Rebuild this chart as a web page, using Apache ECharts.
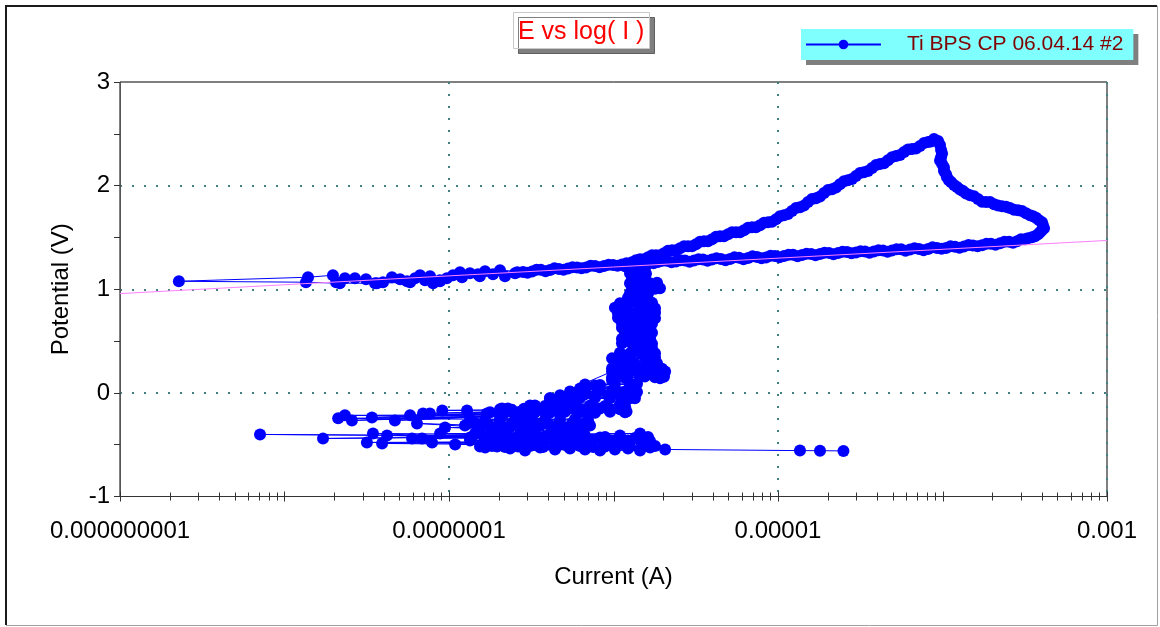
<!DOCTYPE html>
<html>
<head>
<meta charset="utf-8">
<script src="https://cdn.jsdelivr.net/npm/echarts@6/dist/echarts.min.js"></script>
<style>html,body{margin:0;padding:0;background:#fff;}#chart{width:1160px;height:627px;}</style>
</head>
<body>
<div id="chart"></div>
<script>
// ---- DATA: [current (A), potential (V)] in scan order ----
const cathodicStart = [[2.5e-5,-0.560],[1.8e-5,-0.558],[1.36e-5,-0.557]];
const cathodicBottom = [[2.06e-6,-0.546],[1.66e-7,-0.527],[1.45e-6,-0.556],[2.35e-7,-0.536],[1.02e-6,-0.546],[3.58e-7,-0.527],[8.28e-7,-0.556],[1.96e-7,-0.517],[6.71e-7,-0.546],[2.90e-7,-0.556],[5.44e-7,-0.536],[4.41e-7,-0.546],[1.67e-6,-0.527],[1.225e-6,-0.536]];
const cathodicRowA = [[1.543e-7,-0.517],[4.473e-7,-0.522],[1.826e-7,-0.512],[5.291e-7,-0.517],[2.191e-7,-0.522],[6.259e-7,-0.512],[2.627e-7,-0.517],[7.51e-7,-0.522],[3.108e-7,-0.512],[8.884e-7,-0.517],[3.728e-7,-0.522],[1.05e-6,-0.512],[1.26e-6,-0.517],[1.49e-6,-0.522],[1.788e-6,-0.512]];
const cathodicLow = [[3.92e-8,-0.488],[4.73e-7,-0.469],[7.89e-8,-0.478],[9.52e-7,-0.498],[3.17e-8,-0.478],[1.55e-6,-0.469],[1.09e-7,-0.498],[7.20e-7,-0.488],[2.19e-7,-0.469],[1.175e-6,-0.478],[3.11e-7,-0.498],[5.84e-7,-0.459]];
const cathodicRowB = [[1.342e-7,-0.459],[4.229e-7,-0.454],[1.656e-7,-0.464],[5.073e-7,-0.459],[1.986e-7,-0.454],[6.086e-7,-0.464],[2.416e-7,-0.459],[7.20e-7,-0.454],[2.898e-7,-0.464],[8.638e-7,-0.459],[3.476e-7,-0.454],[1.02e-6,-0.464],[1.225e-6,-0.459],[1.449e-6,-0.454],[1.667e-6,-0.464]];
const cathodicRowP = [[1.380e-7,-0.430],[4.473e-7,-0.425],[1.633e-7,-0.435],[5.291e-7,-0.430],[1.931e-7,-0.425],[6.259e-7,-0.435],[2.284e-7,-0.430],[8.884e-7,-0.425],[2.702e-7,-0.435],[1.095e-6,-0.430],[3.196e-7,-0.425],[1.351e-6,-0.435],[3.781e-7,-0.430],[1.621e-6,-0.425]];
const cathodicMid = [[7.10e-9,-0.401],[3.83e-7,-0.420],[1.715e-8,-0.440],[1.095e-6,-0.411],[3.45e-8,-0.391],[1.34e-7,-0.430],[4.20e-8,-0.411],[1.45e-6,-0.391],[5.96e-8,-0.440],[2.04e-7,-0.401],[6.86e-8,-0.440],[8.28e-7,-0.430],[1.78e-7,-0.420],[4.73e-7,-0.401],[8.82e-8,-0.391],[6.71e-7,-0.411]];
const cathodicRowC = [[1.439e-7,-0.391],[3.333e-7,-0.386],[1.775e-7,-0.396],[4.112e-7,-0.391],[2.191e-7,-0.386],[5.073e-7,-0.396],[2.702e-7,-0.391],[6.086e-7,-0.386]];
const cathodicUpper = [[6.39e-8,-0.295],[5.84e-7,-0.343],[9.46e-8,-0.333],[3.11e-7,-0.362],[1.25e-7,-0.314],[4.41e-7,-0.324],[1.54e-7,-0.353],[7.20e-7,-0.314],[2.35e-7,-0.333],[3.58e-7,-0.304]];
const cathodicRowD = [[1.543e-7,-0.324],[3.575e-7,-0.319],[1.905e-7,-0.329],[4.41e-7,-0.324],[2.349e-7,-0.319],[5.44e-7,-0.329],[2.898e-7,-0.324],[6.437e-7,-0.319]];
const cathodicRowQ = [[1.459e-7,-0.295],[3.380e-7,-0.290],[1.726e-7,-0.300],[3.999e-7,-0.295],[2.042e-7,-0.290],[4.73e-7,-0.300],[2.416e-7,-0.295],[5.596e-7,-0.290],[2.858e-7,-0.300],[6.619e-7,-0.295]];
const cathodicRowE = [[1.342e-7,-0.256],[3.108e-7,-0.251],[1.656e-7,-0.261],[3.834e-7,-0.256],[2.042e-7,-0.251],[4.73e-7,-0.261],[2.519e-7,-0.256],[5.836e-7,-0.251],[7.0e-7,-0.261]];
const cathodicHigh = [[2.12e-8,-0.246],[2.70e-7,-0.227],[2.33e-8,-0.217],[4.73e-7,-0.208],[2.57e-8,-0.266],[7.20e-7,-0.188],[3.40e-8,-0.237],[9.52e-7,-0.169],[4.69e-8,-0.266],[1.20e-6,-0.179],[5.80e-8,-0.217],[3.83e-7,-0.179],[6.95e-8,-0.198],[7.65e-8,-0.198],[5.84e-7,-0.159],[9.10e-8,-0.169],[1.287e-7,-0.169],[8.28e-7,-0.150],[1.70e-7,-0.198],[2.10e-7,-0.150],[1.175e-6,-0.130],[2.28e-7,-0.150],[3.33e-7,-0.121],[1.095e-6,-0.111],[4.41e-7,-0.102]];
const cathodicRowF = [[1.775e-7,-0.188],[5.073e-7,-0.183],[2.191e-7,-0.193],[6.259e-7,-0.188],[2.702e-7,-0.183],[7.723e-7,-0.193],[3.333e-7,-0.188],[9.525e-7,-0.183],[4.112e-7,-0.193],[1.175e-6,-0.188]];
const cathodicRowR = [[2.042e-7,-0.159],[5.291e-7,-0.154],[2.416e-7,-0.164],[6.259e-7,-0.159],[2.858e-7,-0.154],[7.830e-7,-0.164],[3.380e-7,-0.159],[9.26e-7,-0.154],[3.999e-7,-0.164],[1.095e-6,-0.159],[4.73e-7,-0.154]];
const cathodicRowG = [[3.108e-7,-0.121],[5.836e-7,-0.116],[3.834e-7,-0.126],[7.20e-7,-0.121],[4.73e-7,-0.116],[8.884e-7,-0.126],[1.095e-6,-0.121]];
const activeBlob = [[5.07e-7,-0.072],[4.11e-7,-0.053],[1.35e-6,-0.053],[5.84e-7,-0.034],[1.30e-6,-0.014],[6.71e-7,0.005],[1.095e-6,0.005],[8.28e-7,0.024],[6.26e-7,0.043],[1.35e-6,0.043],[7.72e-7,0.072],[1.26e-6,0.092],[9.80e-7,0.121],[1.92e-6,0.140],[1.55e-6,0.159],[1.126e-6,0.178],[2.06e-6,0.207],[9.80e-7,0.207]];
const activeRows = [[4.112e-7,-0.053],[7.723e-7,-0.048],[5.073e-7,-0.058],[9.525e-7,-0.053],[6.259e-7,-0.048],[1.175e-6,-0.058],[1.26e-6,-0.053],
  [4.73e-7,-0.024],[7.830e-7,-0.019],[5.596e-7,-0.029],[9.26e-7,-0.024],[6.619e-7,-0.019],[1.095e-6,-0.029],[1.296e-6,-0.024],
  [5.44e-7,0.014],[9.80e-7,0.019],[6.714e-7,0.009],[1.175e-6,0.014],[8.053e-7,0.019],[1.39e-6,0.009],
  [6.714e-7,0.082],[1.02e-6,0.087],[8.28e-7,0.077],[1.26e-6,0.082],[1.39e-6,0.087],
  [9.80e-7,0.150],[1.449e-6,0.155],[1.175e-6,0.145],[1.788e-6,0.150],[2.028e-6,0.155],
  [1.02e-6,0.208],[1.554e-6,0.213],[1.26e-6,0.203],[1.917e-6,0.208]];
const passiveColumn = [[9.80e-7,0.237],[1.667e-6,0.232],[1.175e-6,0.242],[1.409e-6,0.237],[1.972e-6,0.232],
  [1.839e-6,0.285],[1.02e-6,0.280],[1.598e-6,0.290],[1.175e-6,0.285],[1.351e-6,0.280],
  [9.80e-7,0.333],[1.788e-6,0.338],[1.095e-6,0.328],[1.554e-6,0.333],[1.26e-6,0.338],
  [1.788e-6,0.382],[1.095e-6,0.387],[1.621e-6,0.377],[1.26e-6,0.382],[1.449e-6,0.387],
  [1.714e-6,0.430],[1.351e-6,0.425],[1.621e-6,0.435],[1.49e-6,0.430],
  [1.126e-6,0.478],[1.714e-6,0.473],[1.278e-6,0.483],[1.449e-6,0.478],
  [1.667e-6,0.527],[1.126e-6,0.522],[1.554e-6,0.532],[1.225e-6,0.527],[1.409e-6,0.522],
  [1.175e-6,0.575],[1.714e-6,0.580],[1.278e-6,0.570],[1.554e-6,0.575],[1.409e-6,0.580],
  [1.667e-6,0.623],[1.126e-6,0.628],[1.511e-6,0.618],[1.225e-6,0.623],[1.351e-6,0.628],
  [1.126e-6,0.671],[1.714e-6,0.666],[1.225e-6,0.676],[1.621e-6,0.671],[1.449e-6,0.666],
  [1.788e-6,0.720],[1.065e-6,0.725],[1.554e-6,0.715],[1.191e-6,0.720],[1.351e-6,0.725],
  [1.065e-6,0.768],[1.788e-6,0.773],[1.296e-6,0.763],[1.667e-6,0.768],[1.470e-6,0.773],
  [1.788e-6,0.816],[1.02e-6,0.821],[1.621e-6,0.811],[1.191e-6,0.816],[1.449e-6,0.821],
  [1.095e-6,0.865],[1.714e-6,0.870],[1.242e-6,0.860],[1.554e-6,0.865],[1.409e-6,0.870],
  [1.554e-6,0.913],[1.225e-6,0.918],[1.37e-6,0.908],
  [1.26e-6,0.961],[1.621e-6,0.956],[1.351e-6,0.966],[1.449e-6,0.961],
  [1.917e-6,1.010],[1.296e-6,1.015],[1.788e-6,1.005],[1.49e-6,1.010],[1.621e-6,1.015],
  [1.26e-6,1.058],[1.839e-6,1.063],[1.409e-6,1.053],[1.667e-6,1.058],[1.554e-6,1.063],
  [1.554e-6,1.106],[1.296e-6,1.111],[1.409e-6,1.101],
  [1.26e-6,1.155],[1.576e-6,1.150],[1.449e-6,1.160],
  [1.554e-6,1.203],[1.351e-6,1.198],[1.449e-6,1.208]];
const forwardBranch = [[1.175e-6,1.222],[1.225e-6,1.231],[1.296e-6,1.261],[1.37e-6,1.280],[1.449e-6,1.290],[1.533e-6,1.290],[1.621e-6,1.309],[1.714e-6,1.329],[1.813e-6,1.329],[1.917e-6,1.329],
  [2.028e-6,1.348],[2.145e-6,1.372],[2.268e-6,1.377],[2.399e-6,1.377],[2.537e-6,1.396],[2.683e-6,1.415],[2.838e-6,1.415],[3.001e-6,1.415],[3.174e-6,1.435],[3.357e-6,1.459],
  [3.55e-6,1.464],[3.755e-6,1.464],[3.971e-6,1.483],[4.20e-6,1.507],[4.44e-6,1.512],[4.697e-6,1.512],[4.968e-6,1.531],[5.254e-6,1.551],[5.557e-6,1.551],[5.877e-6,1.551],
  [6.215e-6,1.570],[6.573e-6,1.594],[6.95e-6,1.599],[7.352e-6,1.599],[7.776e-6,1.618],[8.224e-6,1.642],[8.70e-6,1.647],[9.198e-6,1.652],[9.73e-6,1.676],[1.028e-5,1.705],
  [1.088e-5,1.715],[1.150e-5,1.725],[1.216e-5,1.754],[1.287e-5,1.783],[1.361e-5,1.792],[1.439e-5,1.807],[1.522e-5,1.841],[1.610e-5,1.870],[1.703e-5,1.879],[1.801e-5,1.894],
  [1.905e-5,1.928],[2.014e-5,1.957],[2.13e-5,1.966],[2.253e-5,1.981],[2.38e-5,2.014],[2.519e-5,2.043],[2.66e-5,2.053],[2.818e-5,2.063],[2.98e-5,2.092],[3.152e-5,2.121],
  [3.33e-5,2.130],[3.525e-5,2.140],[3.73e-5,2.169],[3.943e-5,2.198],[4.17e-5,2.208],[4.41e-5,2.217],[4.66e-5,2.246],[4.933e-5,2.275],[5.22e-5,2.285],[5.518e-5,2.295],
  [5.84e-5,2.324],[6.172e-5,2.348],[6.53e-5,2.353],[6.904e-5,2.358],[7.30e-5,2.382],[7.723e-5,2.411],[8.17e-5,2.420],[8.52e-5,2.425],[8.88e-5,2.449],[9.40e-5,2.430]];
const reversalLoop = [[9.66e-5,2.391],[9.80e-5,2.343],[9.94e-5,2.309],[9.80e-5,2.275],[9.66e-5,2.242],[9.94e-5,2.208],[1.021e-4,2.174],[1.021e-4,2.140],[1.050e-4,2.111],[1.065e-4,2.082],
  [1.095e-4,2.053],[1.127e-4,2.034],[1.175e-4,2.005],[1.225e-4,1.986],[1.278e-4,1.962],[1.332e-4,1.947],[1.39e-4,1.923],[1.470e-4,1.908],[1.554e-4,1.898],[1.644e-4,1.870],
  [1.738e-4,1.845],[1.838e-4,1.841],[1.945e-4,1.841],[2.06e-4,1.821],[2.175e-4,1.807],[2.30e-4,1.802],[2.433e-4,1.797],[2.57e-4,1.783],[2.72e-4,1.768],[2.88e-4,1.763],
  [3.043e-4,1.754],[3.22e-4,1.734],[3.404e-4,1.715],[3.55e-4,1.705],[3.703e-4,1.691],[3.86e-4,1.667],[4.027e-4,1.647],[4.08e-4,1.618],[4.142e-4,1.589],[4.02e-4,1.570],
  [3.917e-4,1.551],[3.81e-4,1.531],[3.651e-4,1.512],[3.50e-4,1.502],[3.31e-4,1.493],[3.17e-4,1.483]];
const reverseBranch = [[3.001e-4,1.483],[2.84e-4,1.464],[2.683e-4,1.449],[2.54e-4,1.458],[2.382e-4,1.459],[2.24e-4,1.445],[2.10e-4,1.430],[1.97e-4,1.438],[1.852e-4,1.440],[1.74e-4,1.425],
  [1.633e-4,1.415],[1.53e-4,1.423],[1.439e-4,1.427],[1.35e-4,1.413],[1.269e-4,1.401],[1.191e-4,1.409],[1.119e-4,1.415],[1.050e-4,1.398],[9.865e-5,1.391],[9.26e-5,1.399],
  [8.70e-5,1.406],[8.17e-5,1.388],[7.67e-5,1.377],[7.20e-5,1.389],[6.76e-5,1.396],[6.35e-5,1.383],[5.96e-5,1.372],[5.60e-5,1.385],[5.254e-5,1.386],[4.93e-5,1.374],
  [4.632e-5,1.362],[4.35e-5,1.375],[4.084e-5,1.377],[3.83e-5,1.364],[3.60e-5,1.353],[3.38e-5,1.365],[3.174e-5,1.367],[2.98e-5,1.354],[2.798e-5,1.348],[2.63e-5,1.360],
  [2.467e-5,1.362],[2.32e-5,1.350],[2.175e-5,1.338],[2.04e-5,1.351],[1.917e-5,1.353],[1.80e-5,1.340],[1.690e-5,1.329],[1.59e-5,1.341],[1.490e-5,1.343],[1.40e-5,1.330],
  [1.314e-5,1.319],[1.234e-5,1.332],[1.158e-5,1.333],[1.088e-5,1.321],[1.021e-5,1.309],[9.59e-6,1.322],[9.007e-6,1.324],[8.46e-6,1.306],[7.94e-6,1.300],[7.46e-6,1.312],
  [7.0e-6,1.319],[6.58e-6,1.301],[6.172e-6,1.290],[5.80e-6,1.303],[5.44e-6,1.309],[5.11e-6,1.292],[4.797e-6,1.280],[4.50e-6,1.293],[4.229e-6,1.300],[3.97e-6,1.287],
  [3.728e-6,1.275],[3.50e-6,1.288],[3.287e-6,1.290],[3.09e-6,1.277],[2.898e-6,1.266],[2.72e-6,1.278],[2.555e-6,1.280],[2.40e-6,1.268],[2.253e-6,1.261],[2.11e-6,1.274],
  [1.986e-6,1.275],[1.86e-6,1.263],[1.751e-6,1.251],[1.64e-6,1.264],[1.543e-6,1.266],[1.45e-6,1.251],[1.361e-6,1.237],[1.278e-6,1.249],[1.20e-6,1.251],[1.126e-6,1.239],
  [1.058e-6,1.227],[9.94e-7,1.235],[9.33e-7,1.237],[8.76e-7,1.224],[8.224e-7,1.213],[7.72e-7,1.225],[7.25e-7,1.227],[6.81e-7,1.210],[6.39e-7,1.203],[6.00e-7,1.211],
  [5.635e-7,1.213],[5.29e-7,1.200],[4.968e-7,1.188],[4.66e-7,1.196],[4.38e-7,1.203],[4.11e-7,1.185],[3.861e-7,1.174],[3.62e-7,1.187],[3.404e-7,1.188],[3.20e-7,1.171],
  [3.001e-7,1.160],[2.82e-7,1.167]];
const zeroCrossing = [[2.042e-7,1.184],[1.656e-7,1.174],[1.166e-7,1.164],[2.52e-7,1.155],[2.19e-7,1.126],[1.85e-7,1.145],[1.54e-7,1.126],[1.34e-7,1.155],[1.20e-7,1.116],[1.058e-7,1.135],
  [9.7e-8,1.106],[8.82e-8,1.077],[8.00e-8,1.058],[7.67e-8,1.126],[7.15e-8,1.087],[6.666e-8,1.135],[6.22e-8,1.106],[5.56e-8,1.077],[5.04e-8,1.097],[4.50e-8,1.116],
  [3.97e-8,1.068],[3.55e-8,1.058],[3.13e-8,1.097],[2.68e-8,1.106],[2.33e-8,1.106],[2.06e-8,1.068],[1.97e-8,1.135],[1.39e-8,1.116],[2.28e-9,1.077],[1.35e-8,1.068],
  [2.17e-8,1.058],[3.65e-8,1.058],[5.80e-8,1.068],[8.8e-8,1.087],[1.5e-7,1.145],[2.6e-7,1.164]];
const tafelFit = [[1e-9,0.958],[1e-3,1.471]];

const seriesName = 'Ti BPS CP 06.04.14 #2';
const chartTitle = 'E vs log( I )';
const xName = 'Current (A)';
const yName = 'Potential (V)';
const decadeTicks = [1e-9,1e-8,1e-7,1e-6,1e-5,1e-4,1e-3];
const minorMultipliers = [2,3,4,5,6,7,8,9];

// ---- build ----
const curve = [].concat(cathodicStart, cathodicBottom, cathodicRowA, cathodicLow, cathodicRowB, cathodicRowP, cathodicMid,
  cathodicRowC, cathodicUpper, cathodicRowD, cathodicRowQ, cathodicRowE, cathodicHigh, cathodicRowF, cathodicRowR, cathodicRowG,
  activeBlob, activeRows, passiveColumn, forwardBranch, reversalLoop, reverseBranch, zeroCrossing);
const xTickData = [];
decadeTicks.forEach((d, i) => {
  xTickData.push([d, 1]);
  if (i < decadeTicks.length - 1) minorMultipliers.forEach(m => xTickData.push([d * m, 0]));
});

const FONT = '"Liberation Sans", Arial, sans-serif';
const chart = echarts.init(document.getElementById('chart'), null, {renderer: 'canvas'});
chart.setOption({
  animation: false,
  backgroundColor: '#ffffff',
  title: {
    text: chartTitle, left: 513, top: 12, padding: [8, 5, 4, 5],
    backgroundColor: '#ffffff', borderColor: '#c8c8c8', borderWidth: 1,
    shadowColor: 'rgba(0,0,0,0.5)', shadowOffsetX: 5, shadowOffsetY: 5, shadowBlur: 0,
    textStyle: {color: '#ff0000', fontSize: 25, fontWeight: 'normal', fontFamily: FONT}
  },
  legend: {
    data: [seriesName], left: 801, top: 29, padding: [5, 10, 5, 4],
    itemWidth: 75, itemHeight: 12,
    backgroundColor: '#80ffff', borderWidth: 0,
    shadowColor: 'rgba(0,0,0,0.5)', shadowOffsetX: 5, shadowOffsetY: 5, shadowBlur: 0,
    textStyle: {color: '#800000', fontSize: 21, fontFamily: FONT, padding: [0, 0, 0, 21]}
  },
  grid: {left: 120, top: 82, width: 987, height: 414.5, show: true, borderColor: '#000', borderWidth: 1},
  xAxis: {
    type: 'log', logBase: 10, min: 1e-9, max: 1e-3, interval: 2,
    axisLine: {onZero: false, lineStyle: {color: '#333', width: 1}},
    axisTick: {show: false},
    axisLabel: {
      fontSize: 24, color: '#000', fontFamily: FONT, margin: 23,
      formatter: v => v.toFixed(Math.round(-Math.log10(v)))
    },
    splitLine: {show: true, showMinLine: false, showMaxLine: false, lineStyle: {color: '#408080', type: [2, 10], width: 2}},
    name: xName, nameLocation: 'middle', nameGap: 69,
    nameTextStyle: {fontSize: 24, color: '#000', fontFamily: FONT}
  },
  yAxis: {
    type: 'value', min: -1, max: 3, interval: 1,
    axisLine: {show: true, onZero: false, lineStyle: {color: '#555', width: 1}},
    axisTick: {show: true, length: 6, lineStyle: {color: '#333'}},
    minorTick: {show: true, splitNumber: 2, length: 6, lineStyle: {color: '#333'}},
    axisLabel: {fontSize: 24, color: '#000', fontFamily: FONT, margin: 10},
    splitLine: {show: true, showMinLine: false, showMaxLine: false, lineStyle: {color: '#408080', type: [2, 10], width: 2}},
    name: yName, nameLocation: 'middle', nameGap: 47, nameRotate: 90,
    nameTextStyle: {fontSize: 24, color: '#000', fontFamily: FONT}
  },
  series: [
    {
      name: seriesName, type: 'line', data: curve,
      symbol: 'circle', symbolSize: 12, showSymbol: true, showAllSymbol: true,
      itemStyle: {color: '#0000ff', borderWidth: 0},
      lineStyle: {color: '#0000ff', width: 1},
      emphasis: {disabled: true}, z: 2
    },
    {
      name: 'Tafel fit', type: 'line', data: tafelFit, symbol: 'none',
      lineStyle: {color: '#ff80ff', width: 1}, emphasis: {disabled: true}, silent: true, z: 3
    },
    {
      name: 'x ticks', type: 'custom', data: xTickData, clip: false, silent: true, z: 5,
      renderItem: (params, api) => {
        const p = api.coord([api.value(0), -1]);
        const h = api.value(1) ? 5 : 4;
        const x = Math.round(p[0]) + 0.5;
        return {type: 'line', shape: {x1: x, y1: p[1] - h, x2: x, y2: p[1] + h},
          style: {stroke: '#333', lineWidth: 1}};
      }
    }
  ],
  graphic: [
    {type: 'polyline', silent: true, shape: {points: [[6, 625], [6, 6], [1157, 6]]}, style: {stroke: '#1a1a1a', lineWidth: 2, fill: null}},
    {type: 'polyline', silent: true, shape: {points: [[1157.5, 6], [1157.5, 625.5], [6, 625.5]]}, style: {stroke: '#a0a0a0', lineWidth: 1, fill: null}}
  ]
});
</script>
</body>
</html>
